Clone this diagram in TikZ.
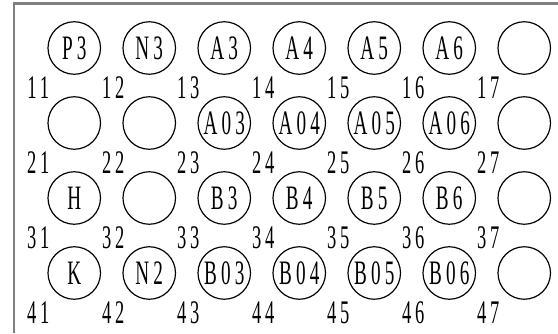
\documentclass[tikz,border=0pt]{standalone}
\usepackage{fontspec}
\newfontfamily\cadfont[FakeStretch=0.56,LetterSpace=12]{Liberation Serif}
\begin{document}
\begin{tikzpicture}[x=1cm,y=1cm,
  hole/.style={draw, circle, line width=0.45pt, minimum size=0.7cm, inner sep=0pt,
    font=\cadfont\fontsize{13}{13}\selectfont},
  posnum/.style={inner sep=0pt, font=\cadfont\fontsize{12.5}{12.5}\selectfont}]
\useasboundingbox (0,0) rectangle (7.44,4.44);
\draw[line width=0.8pt, gray] (0.187,0) -- (0.187,4.393) -- (7.44,4.393);
% first row
\node[hole] (h11) at (0.99,3.8) {P3};
\node[hole] (h12) at (1.99,3.8) {N3};
\node[hole] (h13) at (2.99,3.8) {A3};
\node[hole] (h14) at (3.99,3.8) {A4};
\node[hole] (h15) at (4.99,3.8) {A5};
\node[hole] (h16) at (5.99,3.8) {A6};
\node[hole] (h17) at (6.99,3.8) {};
% second row
\node[hole] (h21) at (0.99,2.8) {};
\node[hole] (h22) at (1.99,2.8) {};
\node[hole] (h23) at (2.99,2.8) {A03};
\node[hole] (h24) at (3.99,2.8) {A04};
\node[hole] (h25) at (4.99,2.8) {A05};
\node[hole] (h26) at (5.99,2.8) {A06};
\node[hole] (h27) at (6.99,2.8) {};
% third row
\node[hole] (h31) at (0.99,1.8) {H};
\node[hole] (h32) at (1.99,1.8) {};
\node[hole] (h33) at (2.99,1.8) {B3};
\node[hole] (h34) at (3.99,1.8) {B4};
\node[hole] (h35) at (4.99,1.8) {B5};
\node[hole] (h36) at (5.99,1.8) {B6};
\node[hole] (h37) at (6.99,1.8) {};
% fourth row
\node[hole] (h41) at (0.99,0.8) {K};
\node[hole] (h42) at (1.99,0.8) {N2};
\node[hole] (h43) at (2.99,0.8) {B03};
\node[hole] (h44) at (3.99,0.8) {B04};
\node[hole] (h45) at (4.99,0.8) {B05};
\node[hole] (h46) at (5.99,0.8) {B06};
\node[hole] (h47) at (6.99,0.8) {};
% position numbers
\node[posnum] (l11) at (0.51,3.27) {11};
\node[posnum] (l12) at (1.51,3.27) {12};
\node[posnum] (l13) at (2.51,3.27) {13};
\node[posnum] (l14) at (3.51,3.27) {14};
\node[posnum] (l15) at (4.51,3.27) {15};
\node[posnum] (l16) at (5.51,3.27) {16};
\node[posnum] (l17) at (6.51,3.27) {17};
\node[posnum] (l21) at (0.51,2.27) {21};
\node[posnum] (l22) at (1.51,2.27) {22};
\node[posnum] (l23) at (2.51,2.27) {23};
\node[posnum] (l24) at (3.51,2.27) {24};
\node[posnum] (l25) at (4.51,2.27) {25};
\node[posnum] (l26) at (5.51,2.27) {26};
\node[posnum] (l27) at (6.51,2.27) {27};
\node[posnum] (l31) at (0.51,1.27) {31};
\node[posnum] (l32) at (1.51,1.27) {32};
\node[posnum] (l33) at (2.51,1.27) {33};
\node[posnum] (l34) at (3.51,1.27) {34};
\node[posnum] (l35) at (4.51,1.27) {35};
\node[posnum] (l36) at (5.51,1.27) {36};
\node[posnum] (l37) at (6.51,1.27) {37};
\node[posnum] (l41) at (0.51,0.27) {41};
\node[posnum] (l42) at (1.51,0.27) {42};
\node[posnum] (l43) at (2.51,0.27) {43};
\node[posnum] (l44) at (3.51,0.27) {44};
\node[posnum] (l45) at (4.51,0.27) {45};
\node[posnum] (l46) at (5.51,0.27) {46};
\node[posnum] (l47) at (6.51,0.27) {47};
\end{tikzpicture}
\end{document}
